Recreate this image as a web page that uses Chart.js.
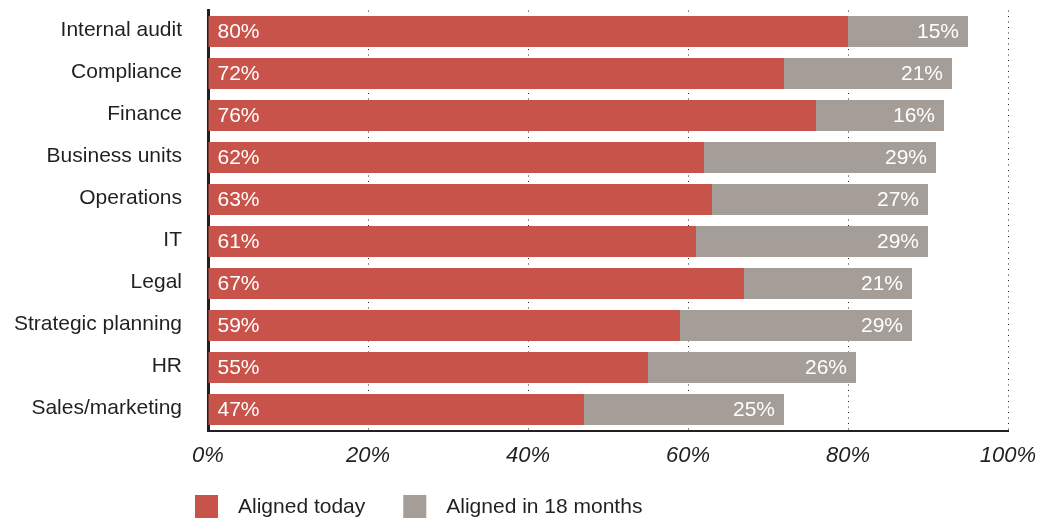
<!DOCTYPE html>
<html>
<head>
<meta charset="utf-8">
<script src="https://cdn.jsdelivr.net/npm/chart.js@4/dist/chart.umd.min.js"></script>
<style>
  html, body { margin: 0; padding: 0; background: #ffffff; }
  #wrap { width: 1038px; height: 521px; position: relative; }
</style>
</head>
<body>
<div id="wrap"><canvas id="chart" width="1038" height="521"></canvas></div>
<script>
// Functions and their alignment share, in percent
const categories = ['Internal audit', 'Compliance', 'Finance', 'Business units', 'Operations', 'IT', 'Legal', 'Strategic planning', 'HR', 'Sales/marketing'];
const alignedToday = [80, 72, 76, 62, 63, 61, 67, 59, 55, 47];
const alignedIn18Months = [15, 21, 16, 29, 27, 29, 21, 29, 26, 25];
const seriesNames = ['Aligned today', 'Aligned in 18 months'];
const xTickValues = [0, 20, 40, 60, 80, 100];

const RED = '#c8534a';
const GREY = '#a59d97';
const INK = '#231f20';
const FONT = "'Liberation Sans', Arial, Helvetica, sans-serif";

// Percentage labels inside each bar segment: left-aligned for the first series, right-aligned for the second
const segmentLabels = {
  id: 'segmentLabels',
  afterDatasetsDraw(chart) {
    const ctx = chart.ctx;
    ctx.save();
    ctx.font = '21px ' + FONT;
    ctx.fillStyle = '#ffffff';
    ctx.textBaseline = 'middle';
    chart.data.datasets.forEach((ds, di) => {
      const meta = chart.getDatasetMeta(di);
      meta.data.forEach((bar, i) => {
        const txt = ds.data[i] + '%';
        if (di === 0) {
          ctx.textAlign = 'left';
          ctx.fillText(txt, bar.base + 9, bar.y + 1);
        } else {
          ctx.textAlign = 'right';
          ctx.fillText(txt, bar.x - 9, bar.y + 1);
        }
      });
    });
    ctx.restore();
  }
};

// Legend with square swatches below the axis
const squareLegend = {
  id: 'squareLegend',
  afterDraw(chart) {
    const ctx = chart.ctx;
    ctx.save();
    ctx.font = '21px ' + FONT;
    ctx.textBaseline = 'middle';
    ctx.textAlign = 'left';
    let x = 195;
    const y = 495, box = 23;
    chart.data.datasets.forEach((ds) => {
      ctx.fillStyle = ds.backgroundColor;
      ctx.fillRect(x, y, box, box);
      ctx.fillStyle = INK;
      ctx.fillText(ds.label, x + box + 20, y + box / 2 + 1);
      x += box + 20 + ctx.measureText(ds.label).width + 38;
    });
    ctx.restore();
  }
};

// Keep the plot area fixed: scales do not reserve extra room for overhanging labels
function noOverhang(scale) {
  scale.paddingTop = 0;
  scale.paddingBottom = 0;
  scale.paddingLeft = 0;
  scale.paddingRight = 0;
}

new Chart(document.getElementById('chart'), {
  type: 'bar',
  data: {
    labels: categories,
    datasets: [
      { label: seriesNames[0], data: alignedToday, backgroundColor: RED },
      { label: seriesNames[1], data: alignedIn18Months, backgroundColor: GREY }
    ]
  },
  options: {
    indexAxis: 'y',
    responsive: false,
    animation: false,
    devicePixelRatio: 1,
    layout: { padding: { left: 0, right: 30, top: 10.5, bottom: 50.5 } },
    datasets: { bar: { barPercentage: 0.74, categoryPercentage: 1, borderWidth: 0 } },
    plugins: { legend: { display: false }, tooltip: { enabled: false } },
    scales: {
      x: {
        stacked: true,
        min: 0,
        max: 100,
        afterBuildTicks(scale) { scale.ticks = xTickValues.map(v => ({ value: v })); },
        afterFit(scale) { scale.height = 40; noOverhang(scale); },
        ticks: {
          padding: 12,
          color: INK,
          font: { family: FONT, size: 22, style: 'italic' },
          maxRotation: 0,
          callback: (v) => v + '%'
        },
        grid: {
          drawTicks: false,
          lineWidth: 1,
          color: (c) => (c.tick && c.tick.value === 0 ? 'rgba(0,0,0,0)' : '#231f20')
        },
        border: { display: true, color: INK, width: 2, dash: [1, 4.5] }
      },
      y: {
        stacked: true,
        afterFit(scale) { scale.width = 208; noOverhang(scale); },
        ticks: {
          padding: 26,
          labelOffset: -1.5,
          color: INK,
          font: { family: FONT, size: 21 }
        },
        grid: { display: false, drawTicks: false },
        border: { display: true, color: INK, width: 3 }
      }
    }
  },
  plugins: [segmentLabels, squareLegend]
});
</script>
</body>
</html>
